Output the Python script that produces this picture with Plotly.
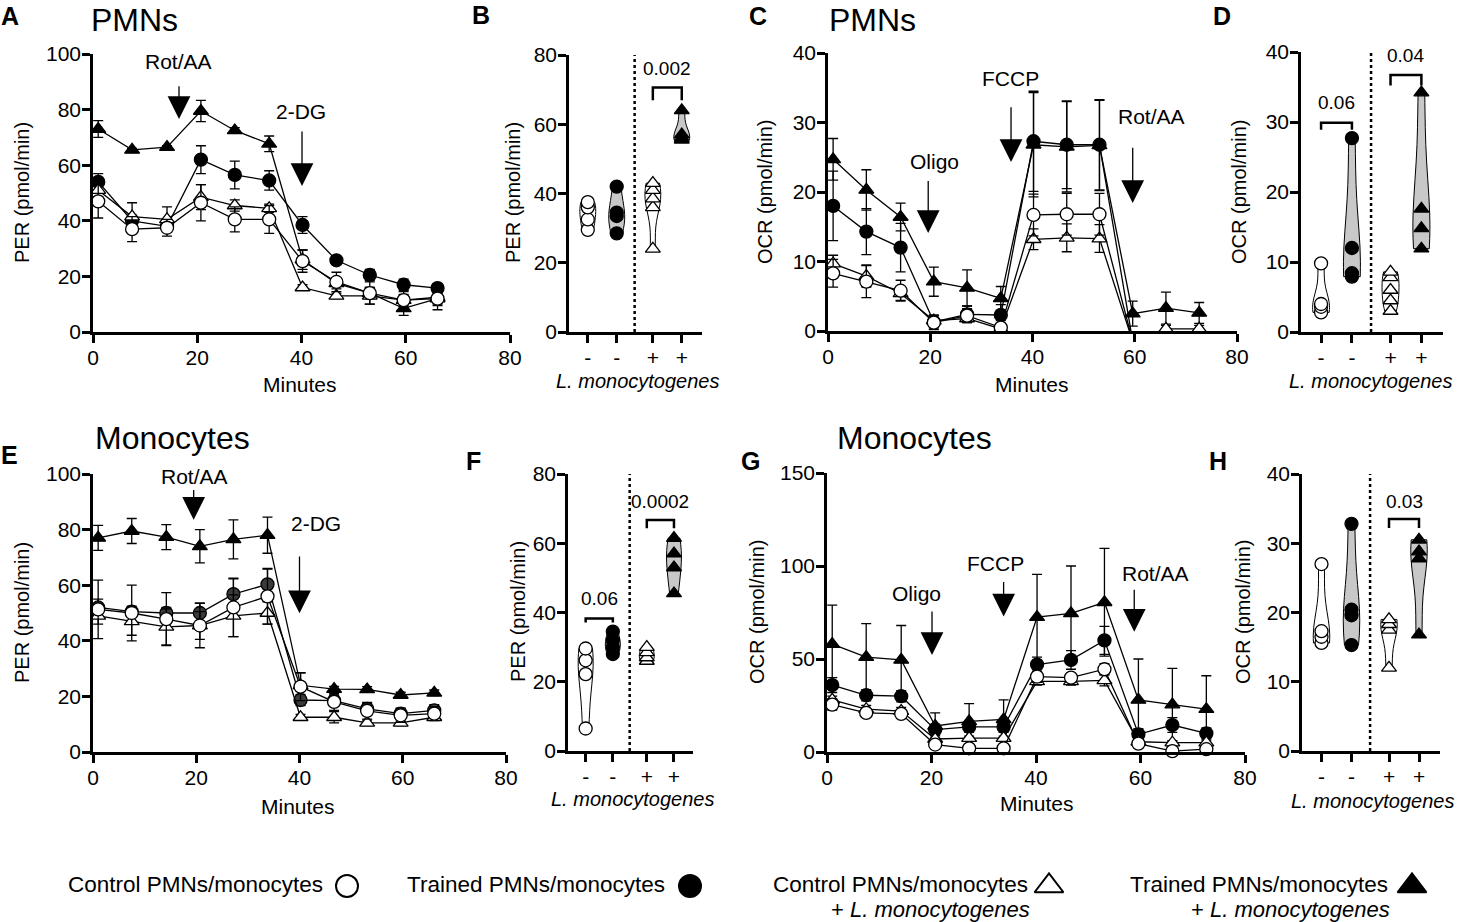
import plotly.graph_objects as go

W, H = 1461, 922
FONT = "Liberation Sans, Arial, sans-serif"

# --------------------------
# Data
# --------------------------
T11 = [1.0, 7.5, 14.2, 20.7, 27.2, 33.8, 40.2, 46.7, 53.1, 59.6, 66.1]
T12 = [1.0, 7.5, 14.2, 20.7, 27.2, 33.8, 40.2, 46.7, 53.1, 59.6, 66.1, 72.6]

# A: PER, PMNs
A_ctrl = [47, 37, 37.5, 46.5, 40.5, 40.5, 25.5, 18, 14, 11.5, 12]
A_ctrl_err = [6, 4.5, 3, 6.5, 4.5, 5, 4, 3.5, 4, 3, 4]
A_trn = [54, 40, 38, 62, 56.5, 54.5, 38.5, 25.8, 20.5, 17, 15.8]
A_trn_err = [3, 2, 2, 5, 5, 3.5, 3, 1, 2, 2, 1.5]
A_ctrlL = [51, 41.5, 40.5, 48.5, 45.5, 44.5, 16, 13, 13, 11.5, 12.5]
A_ctrlL_err = [2.5, 5, 4.5, 4.5, 2, 1.5, 1, 1, 3, 2, 3]
A_trnL = [73, 65.5, 66.5, 79.5, 72.5, 67.7, 26, 17.5, 14, 8.5, 12]
A_trnL_err = [3, 0.5, 0.5, 3.8, 1, 2.8, 3.5, 2, 2, 2.5, 2]

# C: OCR, PMNs
C_ctrl = [8.3, 7.1, 5.8, 1.2, 2.2, 0.5, 16.7, 16.8, 16.8, -1.5, None, None]
C_ctrl_err = [2, 2.3, 1.5, 1, 1, 1, 3, 3, 3, 0, 0, 0]
C_trn = [18, 14.3, 12, 1.3, 2.4, 2.3, 27.3, 26.8, 26.8, -1.5, None, None]
C_trn_err = [5, 3.3, 3.5, 1, 1.2, 1.5, 7.2, 6.3, 6.5, 0, 0, 0]
C_ctrlL = [9.7, 7.9, 5.4, 1.5, 1.8, 0.3, 13.2, 13.4, 13.3, -1.5, 0.3, 0.3]
C_ctrlL_err = [1.2, 1.6, 1, 0.5, 0.5, 0.3, 1.5, 2, 2, 0, 0.5, 0.5]
C_trnL = [24.7, 20.3, 16.4, 7.1, 6.2, 4.7, 26.8, 26.5, 26.7, 2.5, 3.3, 2.6]
C_trnL_err = [3, 2.9, 2, 2.1, 2.6, 1.7, 7.5, 6.5, 6.5, 1.8, 2.3, 1.5]

# E: PER, monocytes
E_ctrl = [51.3, 50, 47.8, 45.5, 52, 56, 23.5, 18, 14.8, 13.2, 13.8]
E_ctrl_err = [10.5, 10, 9.5, 8, 10.5, 10, 5, 3, 3, 2.5, 2.5]
E_trn = [52, 50.5, 50, 50, 56.8, 60.3, 18.7, 18.5, 15.5, 13.8, 15]
E_trn_err = [3, 2, 2, 3.5, 5.5, 5.5, 2, 2, 2, 2, 2]
E_ctrlL = [49, 47, 45, 45.5, 49, 50, 12.5, 12.5, 10.5, 10.5, 12.5]
E_ctrlL_err = [3, 5, 6.5, 5, 7.5, 4, 1, 2, 1, 1, 1]
E_trnL = [77, 79.5, 77.3, 74, 76.5, 78, 24, 22.6, 22.5, 20.5, 21.3]
E_trnL_err = [4.5, 4.5, 4.5, 6, 7, 6.5, 4.5, 1, 1, 1, 1]

# G: OCR, monocytes
G_ctrl = [25.5, 21, 20.5, 4, 2, 2, 40.5, 40, 44.5, 4.5, 0.5, 1.5]
G_ctrl_err = [3, 2, 2, 1, 1, 1, 3, 2, 3, 1, 1, 1]
G_trn = [36, 30.5, 30, 12, 13.5, 13.5, 47, 49.5, 60, 9.5, 14.5, 10]
G_trn_err = [4, 3, 3, 3, 3, 3, 4, 5, 7.5, 3, 4, 3]
G_ctrlL = [28, 23, 22, 7, 7.5, 7.5, 38, 38, 38.5, 5.5, 5, 5]
G_ctrlL_err = [2, 2, 2, 1, 1, 1, 2, 2, 3, 1, 1, 1]
G_trnL = [58, 51, 49.5, 14, 16.5, 17.5, 72.5, 74.5, 80.5, 28, 25.5, 23]
G_trnL_err = [21, 18, 18.5, 7, 9.5, 10.5, 23, 25.5, 29, 22, 19.5, 18]

# Violin panels (individual donors)
B_ctrl = [29.5, 32.5, 36, 37.5]
B_trn = [28.5, 33.5, 34.5, 42]
B_ctrlL = [24, 36, 38.5, 41, 43]
B_trnL = [55.5, 56, 57, 64]
D_ctrl = [2.8, 3.6, 4, 9.8]
D_trn = [7.9, 8.4, 12, 27.7]
D_ctrlL = [3, 4.5, 6, 7.8, 8.6]
D_trnL = [11.9, 14.8, 17.6, 34.2]
F_ctrl = [6.5, 22.2, 26.2, 29.6]
F_trn = [28, 30, 32, 34.5]
F_ctrlL = [26, 27, 28.5, 30]
F_trnL = [45.5, 53, 57, 61.5]
H_ctrl = [15.6, 16.5, 17.3, 27]
H_trn = [15.3, 19.6, 20.4, 32.8]
H_ctrlL = [12, 17.5, 18.3, 19]
H_trnL = [16.8, 27.8, 28.8, 30.5]

GROUP_TICKS = ["-", "-", "+", "+"]

# p-values: (group i, group j, bracket y, leg, label, label y)
B_sig = [(2, 3, 70.6, 3.7, "0.002", 76)]
D_sig = [(0, 1, 29.9, 1.0, "0.06", 32.8), (2, 3, 36.7, 1.5, "0.04", 39.5)]
F_sig = [(0, 1, 38.3, 1.2, "0.06", 44), (2, 3, 66.7, 2.4, "0.0002", 72)]
H_sig = [(2, 3, 33.5, 1.3, "0.03", 36)]

# injections: (label, text x, text y, arrow x, arrow from y, arrow to y)
A_inj = [("Rot/AA", 16.4, 97.4, 16.5, 88.9, 76.6), ("2-DG", 39.9, 79.3, 40.1, 72.7, 52.5)]
C_inj = [("Oligo", 20.8, 24.4, 19.6, 21.8, 14.1), ("FCCP", 35.7, 36.4, 35.8, 32.4, 24.3),
         ("Rot/AA", 63.3, 30.8, 59.6, 26.6, 18.4)]
E_inj = [("Rot/AA", 19.7, 99, 19.5, 94.8, 83.5), ("2-DG", 43.1, 82.3, 40.0, 70.9, 49.9)]
G_inj = [("Oligo", 17.2, 85.3, 20.1, 76.3, 52.1), ("FCCP", 32.2, 101.5, 33.8, 92.2, 72.8),
         ("Rot/AA", 62.8, 96.1, 58.8, 88, 64.7)]

LEGEND_LABELS = ["Control PMNs/monocytes", "Trained PMNs/monocytes",
                 "Control PMNs/monocytes", "Trained PMNs/monocytes"]
LEGEND_SUB = ["", "", "+ <i>L. monocytogenes</i>", "+ <i>L. monocytogenes</i>"]

# --------------------------
# Layout geometry (pixels: left, right, top, bottom)
# --------------------------
BOX = {
    1: (93, 510, 54, 332), 2: (569, 702, 55, 332),
    3: (828, 1237, 53, 331), 4: (1301, 1443, 52, 332),
    5: (93, 506, 474, 752), 6: (568, 693, 474, 751),
    7: (827, 1245, 473, 752), 8: (1302, 1440, 474, 751),
}
POS = [1, 2, 3.25, 4.25]
DIVIDER = 2.62

STYLE = {
    "ctrl": ("circle", "white"),
    "trn": ("circle", "black"),
    "ctrlL": ("triangle-up", "white"),
    "trnL": ("triangle-up", "black"),
}

fig = go.Figure()


def sfx(n):
    return "" if n == 1 else str(n)


def add_series(n, t, y, err, key, fill=None, clip=False):
    sym, col = STYLE[key]
    fig.add_trace(go.Scatter(
        x=t, y=y, mode="lines+markers",
        error_y=dict(type="data", array=err, color="black", thickness=1.3, width=5),
        line=dict(color="black", width=1.3),
        marker=dict(symbol=sym, size=13, color=fill or col, line=dict(color="black", width=1.3)),
        xaxis="x" + sfx(n), yaxis="y" + sfx(n), cliponaxis=clip,
        showlegend=False, hoverinfo="skip",
    ))


def add_violin_group(n, pos, vals, key):
    sym, col = STYLE[key]
    vfill = "#c8c8c8" if col == "black" else "white"
    fig.add_trace(go.Violin(
        x=[pos] * len(vals), y=vals, width=0.55, spanmode="hard", points=False,
        fillcolor=vfill, line=dict(color="black", width=1),
        xaxis="x" + sfx(n), yaxis="y" + sfx(n), showlegend=False, hoverinfo="skip",
    ))
    fig.add_trace(go.Scatter(
        x=[pos] * len(vals), y=vals, mode="markers",
        marker=dict(symbol=sym, size=13, color=col, line=dict(color="black", width=1.3)),
        xaxis="x" + sfx(n), yaxis="y" + sfx(n), cliponaxis=False,
        showlegend=False, hoverinfo="skip",
    ))


def add_sig(n, sig):
    for i, j, yb, leg, label, ty in sig:
        fig.add_trace(go.Scatter(
            x=[POS[i], POS[i], POS[j], POS[j]], y=[yb - leg, yb, yb, yb - leg],
            mode="lines", line=dict(color="black", width=2.5),
            xaxis="x" + sfx(n), yaxis="y" + sfx(n), cliponaxis=False,
            showlegend=False, hoverinfo="skip",
        ))
        fig.add_annotation(text=label, x=(POS[i] + POS[j]) / 2, y=ty,
                           xref="x" + sfx(n), yref="y" + sfx(n), showarrow=False,
                           font=dict(size=19), yanchor="middle")


def add_injections(n, inj):
    for label, tx, ty, axp, y0, y1 in inj:
        fig.add_annotation(text=label, x=tx, y=ty, xref="x" + sfx(n), yref="y" + sfx(n),
                           showarrow=False, font=dict(size=21), yanchor="middle")
        fig.add_annotation(text="", x=axp, y=y1, ax=axp, ay=y0,
                           xref="x" + sfx(n), yref="y" + sfx(n),
                           axref="x" + sfx(n), ayref="y" + sfx(n),
                           showarrow=True, arrowhead=2, arrowsize=3.5, arrowwidth=1.3,
                           arrowcolor="black")


# --------------------------
# Line panels
# --------------------------
for n, t, data, clip in [
    (1, T11, [(A_trnL, A_trnL_err, "trnL"), (A_trn, A_trn_err, "trn"),
              (A_ctrlL, A_ctrlL_err, "ctrlL"), (A_ctrl, A_ctrl_err, "ctrl")], False),
    (3, T12, [(C_trnL, C_trnL_err, "trnL"), (C_trn, C_trn_err, "trn"),
              (C_ctrlL, C_ctrlL_err, "ctrlL"), (C_ctrl, C_ctrl_err, "ctrl")], True),
    (5, T11, [(E_trnL, E_trnL_err, "trnL"), (E_trn, E_trn_err, "trn"),
              (E_ctrlL, E_ctrlL_err, "ctrlL"), (E_ctrl, E_ctrl_err, "ctrl")], False),
    (7, T12, [(G_trnL, G_trnL_err, "trnL"), (G_trn, G_trn_err, "trn"),
              (G_ctrlL, G_ctrlL_err, "ctrlL"), (G_ctrl, G_ctrl_err, "ctrl")], False),
]:
    for y, err, key in data:
        fill = "#3a3a3a" if (n == 5 and key == "trn") else None
        add_series(n, t, y, err, key, fill=fill, clip=clip)

add_injections(1, A_inj)
add_injections(3, C_inj)
add_injections(5, E_inj)
add_injections(7, G_inj)

# --------------------------
# Violin panels
# --------------------------
for n, groups, sig in [
    (2, [B_ctrl, B_trn, B_ctrlL, B_trnL], B_sig),
    (4, [D_ctrl, D_trn, D_ctrlL, D_trnL], D_sig),
    (6, [F_ctrl, F_trn, F_ctrlL, F_trnL], F_sig),
    (8, [H_ctrl, H_trn, H_ctrlL, H_trnL], H_sig),
]:
    for pos, vals, key in zip(POS, groups, ["ctrl", "trn", "ctrlL", "trnL"]):
        add_violin_group(n, pos, vals, key)
    add_sig(n, sig)
    fig.add_shape(type="line", x0=DIVIDER, x1=DIVIDER, y0=0, y1=1,
                  xref="x" + sfx(n), yref="y" + sfx(n) + " domain",
                  line=dict(color="black", width=2.5, dash="dot"))

# --------------------------
# Axes
# --------------------------
axis_common = dict(
    showline=True, linecolor="black", linewidth=2.5, ticks="outside", ticklen=8,
    tickwidth=2.5, tickcolor="black", showgrid=False, zeroline=False,
    tickfont=dict(size=21, color="black"), fixedrange=True, automargin=False,
    ticklabelstandoff=-3,
)
Y_RANGE = {1: (100, 20), 2: (80, 20), 3: (40, 10), 4: (40, 10),
           5: (100, 20), 6: (80, 20), 7: (150, 50), 8: (40, 10)}

layout_axes = {}
for n, (l, r, t, b) in BOX.items():
    xd = [l / W, r / W]
    yd = [1 - b / H, 1 - t / H]
    top, step = Y_RANGE[n]
    if n % 2 == 1:
        xa = dict(axis_common, domain=xd, range=[0, 80], tickvals=[0, 20, 40, 60, 80],
                  anchor="y" + sfx(n))
    else:
        xa = dict(axis_common, domain=xd, range=[0.35, 4.95], tickvals=POS,
                  ticktext=GROUP_TICKS, anchor="y" + sfx(n))
    ya = dict(axis_common, domain=yd, range=[0, top],
              tickvals=list(range(0, top + 1, step)), anchor="x" + sfx(n))
    layout_axes["xaxis" + sfx(n)] = xa
    layout_axes["yaxis" + sfx(n)] = ya

# overlay axis in pixel coordinates for text and the key
layout_axes["xaxis9"] = dict(domain=[0, 1], range=[0, W], visible=False, fixedrange=True,
                             anchor="y9", automargin=False)
layout_axes["yaxis9"] = dict(domain=[0, 1], range=[H, 0], visible=False, fixedrange=True,
                             anchor="x9", automargin=False)

fig.update_layout(**layout_axes)


def txt(text, x, y, size=21, **kw):
    fig.add_annotation(text=text, x=x, y=y, xref="x9", yref="y9", showarrow=False,
                       font=dict(size=size, color="black"), **kw)


# panel letters and titles
for letter, x, y in [("A", 10, 16), ("B", 481, 15), ("C", 758, 16), ("D", 1222, 16),
                     ("E", 9, 455), ("F", 473, 461), ("G", 750, 461), ("H", 1218, 461)]:
    txt("<b>" + letter + "</b>", x, y, size=25)
for title, x, y in [("PMNs", 134, 20), ("PMNs", 872, 20),
                    ("Monocytes", 172, 438), ("Monocytes", 914, 438)]:
    txt(title, x, y, size=32)

# axis titles
for label, x, y in [("PER (pmol/min)", 22, 193), ("PER (pmol/min)", 513, 193),
                    ("OCR (pmol/min)", 765, 192), ("OCR (pmol/min)", 1239, 192),
                    ("PER (pmol/min)", 22, 613), ("PER (pmol/min)", 518, 612),
                    ("OCR (pmol/min)", 757, 612), ("OCR (pmol/min)", 1243, 612)]:
    txt(label, x, y, size=20, textangle=-90)
for x, y in [(300, 384), (1032, 384), (298, 806), (1037, 803)]:
    txt("Minutes", x, y, size=21)
for x, y in [(637, 381), (1370, 381), (632, 799), (1372, 801)]:
    txt("<i>L. monocytogenes</i>", x, y, size=20)

# key at the bottom
KEY_X = [(325, 347), (667, 690), (1030, 1049), (1390, 1412)]
for (tx, mx), label, sub, key in zip(KEY_X, LEGEND_LABELS, LEGEND_SUB, ["ctrl", "trn", "ctrlL", "trnL"]):
    txt(label, tx, 884, size=22.5, xanchor="right")
    if sub:
        txt(sub, tx + 2, 909, size=22, xanchor="right")
    sym, col = STYLE[key]
    fig.add_trace(go.Scatter(
        x=[mx], y=[886], mode="markers", xaxis="x9", yaxis="y9",
        marker=dict(symbol=sym, size=22 if sym == "circle" else 25, color=col,
                    line=dict(color="black", width=2)),
        showlegend=False, hoverinfo="skip",
    ))

fig.update_layout(
    width=W, height=H,
    margin=dict(l=0, r=0, t=0, b=0, autoexpand=False),
    paper_bgcolor="white", plot_bgcolor="rgba(0,0,0,0)",
    font=dict(family=FONT, color="black"),
    violinmode="overlay",
    showlegend=False,
)

# drop the default page margin so the figure sits at the window's corner
fig.write_html("out.html", config={"displayModeBar": False},
               post_script="document.body.style.margin='0';")
